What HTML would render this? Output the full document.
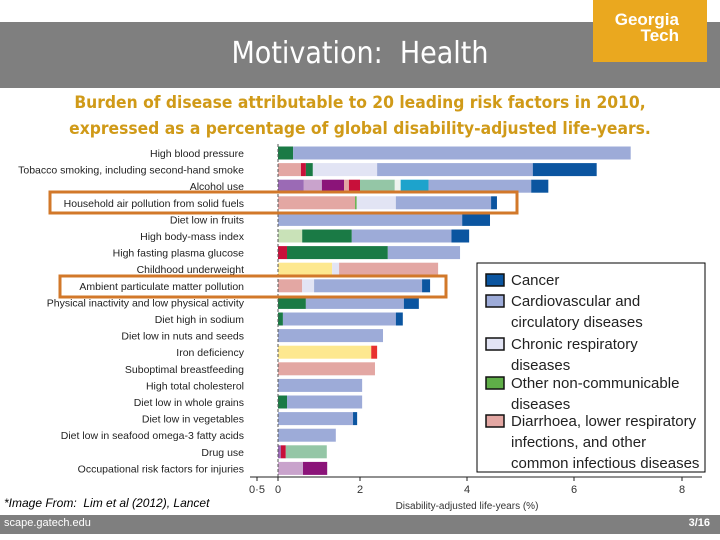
<!DOCTYPE html>
<html><head><meta charset="utf-8">
<style>
body{margin:0;width:720px;height:540px;overflow:hidden;background:#fff;font-family:"Liberation Sans",sans-serif;position:relative}
.abs{position:absolute}
</style></head><body>
<div class="abs" style="left:0;top:22px;width:720px;height:66px;background:#7f7f7f"></div>
<div class="abs" style="left:0;top:36px;width:720px;text-align:center;color:#fff;font-size:30px;font-family:'DejaVu Sans Condensed','Liberation Sans',sans-serif">Motivation:&nbsp; Health</div>
<div class="abs" style="left:593px;top:0;width:114px;height:62px;background:#eaa81f;color:#fff;font-weight:bold;font-size:17px;line-height:16px;text-align:right;box-sizing:border-box;padding:12px 28px 0 0">Georgia<br>Tech</div>
<div class="abs" style="left:0;top:90px;width:720px;text-align:center;color:#d09a18;font-size:17.3px;font-weight:bold;line-height:26px;font-family:'DejaVu Sans Condensed','Liberation Sans',sans-serif">Burden of disease attributable to 20 leading risk factors in 2010,<br>expressed as a percentage of global disability-adjusted life-years.</div>
<svg class="abs" style="left:0;top:0" width="720" height="540">
<g id="bars"></g>
</svg>
<div class="abs" style="left:4px;top:496px;font-size:12px;font-style:italic;color:#000">*Image From:&nbsp; Lim et al (2012), Lancet</div>
<div class="abs" style="left:0;top:515px;width:720px;height:19px;background:#7f7f7f"></div>
<div class="abs" style="left:4px;top:517px;font-size:11px;color:#fff">scape.gatech.edu</div>
<div class="abs" style="right:10px;top:517px;font-size:11px;color:#fff;font-weight:bold">3/16</div>
<script>
const categories=["High blood pressure","Tobacco smoking, including second-hand smoke","Alcohol use","Household air pollution from solid fuels","Diet low in fruits","High body-mass index","High fasting plasma glucose","Childhood underweight","Ambient particulate matter pollution","Physical inactivity and low physical activity","Diet high in sodium","Diet low in nuts and seeds","Iron deficiency","Suboptimal breastfeeding","High total cholesterol","Diet low in whole grains","Diet low in vegetables","Diet low in seafood omega-3 fatty acids","Drug use","Occupational risk factors for injuries"];
const segValues=[[0.37,6.68],[0.56,0.12,0.17,1.47,2.91,1.19],[0.63,0.44,0.54,0.12,0.27,0.65,0.11,0.52,1.92,0.32],[1.88,0.04,0.75,1.78,0.11],[3.91,0.52],[0.59,1.21,1.91,0.33],[0.22,2.30,1.35],[1.32,0.17,1.97],[0.59,0.29,2.28,0.15],[0.68,2.14,0.28],[0.12,2.55,0.13],[2.43],[2.21,0.11],[2.28],[2.04],[0.22,1.82],[1.83,0.10],[1.41],[0.07,0.12,1.0],[0.61,0.59]];
const segTypes=[["g","c"],["p","r","g","l","c","k"],["u","i","m","p","r","t","w","y","c","k"],["p","G","l","c","k"],["c","k"],["e","g","c","k"],["r","g","c"],["Y","l","p"],["p","l","c","k"],["g","c","k"],["g","c","k"],["c"],["Y","R"],["p"],["c"],["g","c"],["c","k"],["c"],["u","r","t"],["i","m"]];
const tickValues=[-0.5,0,2,4,6,8];
const tickLabels=["0·5","0","2","4","6","8"];
const colors={c:"#9dabd8",k:"#0b55a0",g:"#1a7a45",G:"#5fae48",p:"#e3a7a3",r:"#c8103a",R:"#e8312e",l:"#e2e4f4",u:"#9b6ab5",i:"#c9a3cc",m:"#8b1479",t:"#94c6a6",w:"#eef3ee",y:"#1da3cc",e:"#c9e2b8",Y:"#fde88f"};
const tpx=[257,278,360,467,574,682];
function x(v){for(let i=0;i<tickValues.length-1;i++){if(v<=tickValues[i+1]||i===tickValues.length-2){return tpx[i]+(v-tickValues[i])/(tickValues[i+1]-tickValues[i])*(tpx[i+1]-tpx[i]);}}}
function y(i){return 153+i*16.6;}
const NS="http://www.w3.org/2000/svg";
const svg=document.querySelector("svg");
function mk(t,a){const e=document.createElementNS(NS,t);for(const k in a)e.setAttribute(k,a[k]);svg.appendChild(e);return e;}
categories.forEach((c,i)=>{
 let acc=0;
 segValues[i].forEach((v,j)=>{
  const r=mk("rect",{x:x(acc),y:y(i)-6.5,width:Math.max(0,x(acc+v)-x(acc)),height:13,fill:colors[segTypes[i][j]]});
  
  
  acc+=v;
 });
 const t=mk("text",{x:244,y:y(i)+4,"text-anchor":"end","font-size":"10.5",fill:"#222","font-family":"Liberation Sans Narrow, Liberation Sans, sans-serif"});
 t.textContent=c;
 
 
});
const zl=mk("line",{x1:278,x2:278,y1:144,y2:477,stroke:"#555","stroke-dasharray":"3,2","stroke-width":1});


const ax=mk("line",{x1:250,x2:702,y1:477,y2:477,stroke:"#222","stroke-width":1});


tickValues.forEach((v,i)=>{
 const tk=mk("line",{x1:x(v),x2:x(v),y1:477,y2:481,stroke:"#222"});
 
 
 const tl=mk("text",{x:x(v),y:493,"text-anchor":"middle","font-size":"11",fill:"#333"});
 tl.textContent=tickLabels[i];
 
 
});
const xt=mk("text",{x:467,y:509,"text-anchor":"middle","font-size":"10",fill:"#333"});
xt.textContent="Disability-adjusted life-years (%)";


[[50,192,467,21],[60,276,386,21]].forEach(b=>{
 const h=mk("rect",{x:b[0],y:b[1],width:b[2],height:b[3],fill:"none",stroke:"#d2782a","stroke-width":3});
 
 
});
const lb=mk("rect",{x:477,y:263,width:228,height:209,fill:"#fff",stroke:"#000","stroke-width":1});


const legendColors=["#0b55a0","#9dabd8","#e2e4f4","#5fae48","#e3a7a3"];
const legendLines=[["Cancer"],["Cardiovascular and","circulatory diseases"],["Chronic respiratory","diseases"],["Other non-communicable","diseases"],["Diarrhoea, lower respiratory","infections, and other","common infectious diseases"]];
const legendY=[280,301,344,383,421];
legendLines.forEach((ls,i)=>{
 const s=mk("rect",{x:486,y:legendY[i]-6,width:18,height:12,fill:legendColors[i],stroke:"#111","stroke-width":1.5});
 
 
 ls.forEach((l,k)=>{
  const t=mk("text",{x:511,y:legendY[i]+5+k*21,"font-size":"15",fill:"#222","font-family":"Liberation Sans Narrow, Liberation Sans, sans-serif"});
  t.textContent=l;
  
  
 });
});
</script>
</body></html>
